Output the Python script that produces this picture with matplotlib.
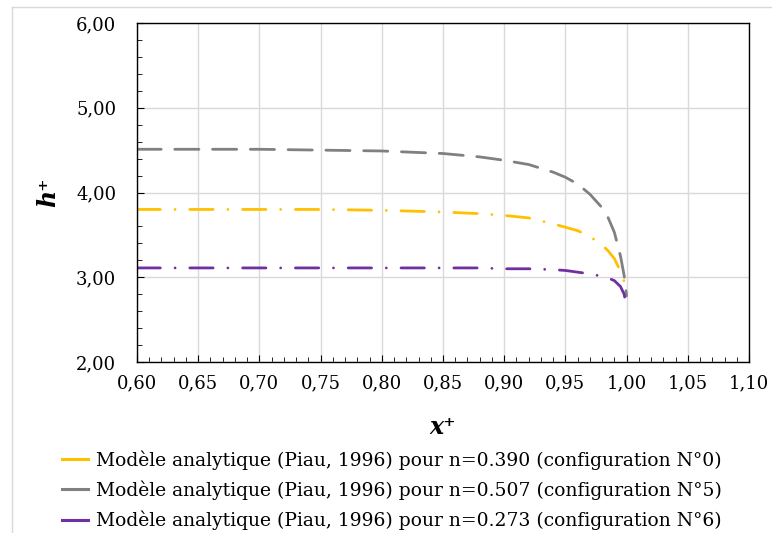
import matplotlib.pyplot as plt
from matplotlib.lines import Line2D
from matplotlib.ticker import MultipleLocator, FuncFormatter

plt.rcParams['font.family'] = ['DejaVu Serif']

# x+ positions and h+ values
x_plus = [0.60, 0.65, 0.70, 0.75, 0.80, 0.85, 0.88, 0.90, 0.92, 0.94, 0.95,
          0.96, 0.97, 0.98, 0.985, 0.99, 0.995, 0.998, 1.0]
h_n0390 = [3.80, 3.80, 3.80, 3.80, 3.79, 3.77, 3.75, 3.73, 3.70, 3.63, 3.59,
           3.55, 3.48, 3.38, 3.31, 3.22, 3.07, 2.95, 2.85]
h_n0507 = [4.51, 4.51, 4.51, 4.50, 4.49, 4.46, 4.42, 4.38, 4.33, 4.24, 4.18,
           4.10, 3.98, 3.82, 3.70, 3.53, 3.25, 3.02, 2.78]
h_n0273 = [3.11, 3.11, 3.11, 3.11, 3.11, 3.11, 3.11, 3.10, 3.10, 3.09, 3.08,
           3.06, 3.04, 3.01, 2.99, 2.96, 2.89, 2.80, 2.63]

labels = [
    "Modèle analytique (Piau, 1996) pour n=0.390 (configuration N°0)",
    "Modèle analytique (Piau, 1996) pour n=0.507 (configuration N°5)",
    "Modèle analytique (Piau, 1996) pour n=0.273 (configuration N°6)",
]
colors = ['#FFC000', '#808080', '#7030A0']

fig = plt.figure(figsize=(7.72, 5.33), dpi=100)
ax = fig.add_axes([137/772, 1 - 362/533, (749-137)/772, (362-23)/533])

lw = 2.0
dashdot = (8.4, 5.3, 0.01, 5.3)
ax.plot(x_plus, h_n0390, color=colors[0], lw=lw, dashes=dashdot, dash_capstyle='round')
ax.plot(x_plus, h_n0507, color=colors[1], lw=lw, dashes=(8.7, 4.9), dash_capstyle='round')
ax.plot(x_plus, h_n0273, color=colors[2], lw=lw, dashes=dashdot, dash_capstyle='round')

ax.set_xlim(0.60, 1.10)
ax.set_ylim(2.0, 6.0)
ax.xaxis.set_major_locator(MultipleLocator(0.05))
ax.xaxis.set_minor_locator(MultipleLocator(0.01))
ax.yaxis.set_major_locator(MultipleLocator(1.0))
ax.yaxis.set_minor_locator(MultipleLocator(0.2))
ax.xaxis.set_major_formatter(FuncFormatter(lambda v, p: f"{v:.2f}".replace('.', ',')))
ax.yaxis.set_major_formatter(FuncFormatter(lambda v, p: f"{v:.2f}".replace('.', ',')))
ax.tick_params(which='both', direction='in', labelsize=13, color='black')
ax.tick_params(which='major', length=5)
ax.tick_params(which='minor', length=3.5)
ax.tick_params(axis='x', which='major', pad=9)
ax.tick_params(axis='y', which='major', pad=15)
ax.grid(True, which='major', color='#d9d9d9', lw=1)
ax.set_axisbelow(True)
for s in ax.spines.values():
    s.set_color('black')
    s.set_linewidth(1)

ax.set_xlabel("x⁺", fontsize=17, fontweight='bold', fontstyle='italic', labelpad=16)
ax.set_ylabel("h⁺", fontsize=17, fontweight='bold', fontstyle='italic', labelpad=11)

handles = [Line2D([], [], color=c, lw=2.2) for c in colors]
fig.legend(handles, labels, loc='upper left', bbox_to_anchor=(62/772, 1 - 450/533),
           frameon=False, fontsize=13.5, handlelength=1.4, handletextpad=0.4,
           labelspacing=0.58, borderaxespad=0, borderpad=0)

# light chart-area border
fig.add_artist(Line2D([12/772, 12/772], [0, 1 - 7/533], color='#d9d9d9', lw=1))
fig.add_artist(Line2D([12/772, 1], [1 - 7/533, 1 - 7/533], color='#d9d9d9', lw=1))

fig.savefig('out.png', dpi=100)
